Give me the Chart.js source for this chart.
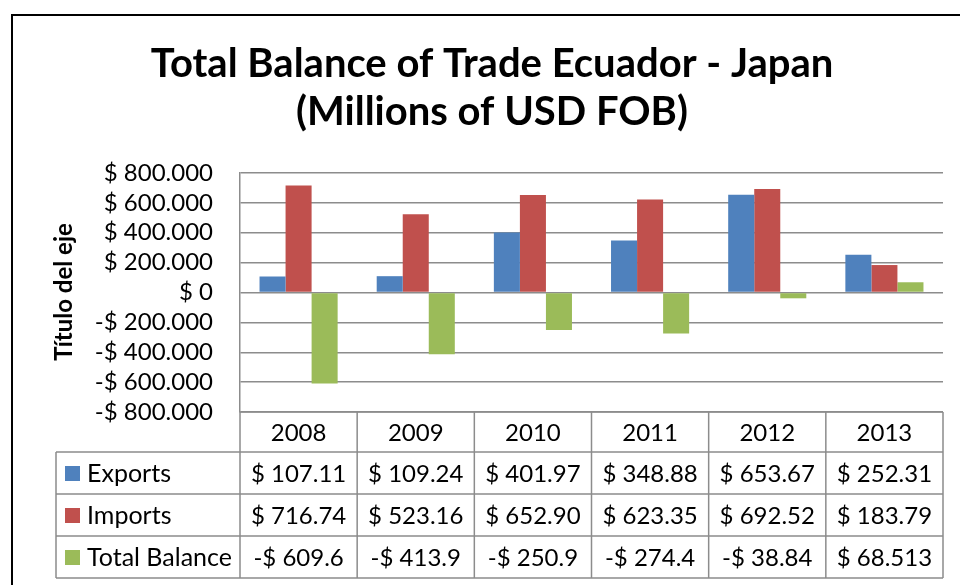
<!DOCTYPE html>
<html>
<head>
<meta charset="utf-8">
<script src="https://cdn.jsdelivr.net/npm/chart.js@4.4.1/dist/chart.umd.min.js"></script>
<style>
  html, body { margin: 0; padding: 0; background: #ffffff; }
  #wrap { width: 960px; height: 585px; position: relative; }
  canvas { display: block; }
</style>
</head>
<body>
<div id="wrap"><canvas id="c" width="960" height="585"></canvas></div>
<script>
// ---- data ----
const categories = ['2008', '2009', '2010', '2011', '2012', '2013'];
const exportsValues = [107.11, 109.24, 401.97, 348.88, 653.67, 252.31];
const importsValues = [716.74, 523.16, 652.90, 623.35, 692.52, 183.79];
const balanceValues = [-609.6, -413.9, -250.9, -274.4, -38.84, 68.513];
const seriesNames = ['Exports', 'Imports', 'Total Balance'];
const yTicks = [800, 600, 400, 200, 0, -200, -400, -600, -800];
const titleLines = ['Total Balance of Trade Ecuador - Japan', '(Millions of USD FOB)'];
const axisTitle = 'Título del eje';

const colors = ['#4F81BD', '#C0504D', '#9BBB59'];
const FONT = 'Lato, "Open Sans", "Liberation Sans", sans-serif';
const GRID = '#8c8c8c';

function fmtTick(v) {
  if (v === 0) return '$ 0';
  return (v < 0 ? '-$ ' : '$ ') + Math.abs(v).toFixed(3);
}
// Excel "General" format squeezed into the cell width (6 characters)
function fmtCell(v) {
  let s = (v < 0) ? v.toPrecision(4) : (v >= 100 ? v.toFixed(2) : v.toPrecision(5));
  if (v < 0) return '-$ ' + s.replace('-', '');
  return '$ ' + s;
}

const tablePlugin = {
  id: 'excelDecor',
  beforeDraw(chart) {
    const ctx = chart.ctx;
    ctx.save();
    ctx.fillStyle = '#ffffff';
    ctx.fillRect(0, 0, chart.width, chart.height);
    ctx.restore();
  },
  afterDraw(chart) {
    const ctx = chart.ctx;
    const area = chart.chartArea;
    const xs = chart.scales.x;
    const n = categories.length;
    const colW = (area.right - area.left) / n;
    ctx.save();

    // outer chart frame
    ctx.strokeStyle = '#000000';
    ctx.lineWidth = 2;
    ctx.beginPath();
    ctx.moveTo(12, 600);
    ctx.lineTo(12, 15);
    ctx.lineTo(980, 15);
    ctx.stroke();

    // title
    ctx.fillStyle = '#000000';
    ctx.textAlign = 'center';
    ctx.textBaseline = 'alphabetic';
    ctx.font = 'bold 40px ' + FONT;
    ctx.fillText(titleLines[0], 492, 77);
    ctx.fillText(titleLines[1], 492, 125);

    // axis title
    ctx.save();
    ctx.translate(64, 292);
    ctx.rotate(-Math.PI / 2);
    ctx.font = 'bold 24px ' + FONT;
    ctx.textBaseline = 'middle';
    ctx.fillText(axisTitle, 0, 0);
    ctx.restore();

    // data table
    const top = area.bottom;
    const headH = 40;
    const rowH = 42;
    const tableLeft = 56;
    ctx.strokeStyle = GRID;
    ctx.lineWidth = 1.5;
    ctx.beginPath();
    ctx.moveTo(area.left, top);
    ctx.lineTo(area.right, top);
    for (let r = 0; r <= 3; r++) {
      const y = top + headH + r * rowH;
      ctx.moveTo(tableLeft, y);
      ctx.lineTo(area.right, y);
    }
    ctx.moveTo(tableLeft, top + headH);
    ctx.lineTo(tableLeft, top + headH + 3 * rowH);
    for (let i = 0; i <= n; i++) {
      const x = area.left + i * colW;
      ctx.moveTo(x, top);
      ctx.lineTo(x, top + headH + 3 * rowH);
    }
    ctx.stroke();

    ctx.fillStyle = '#000000';
    ctx.textBaseline = 'middle';
    ctx.textAlign = 'center';
    ctx.font = '24px ' + FONT;
    categories.forEach((c, i) => {
      ctx.fillText(c, xs.getPixelForValue(i), top + headH / 2 + 1);
    });
    const series = [exportsValues, importsValues, balanceValues];
    series.forEach((vals, r) => {
      const cy = top + headH + r * rowH + rowH / 2 + 1;
      ctx.fillStyle = colors[r];
      ctx.fillRect(65, cy - 8, 15, 15);
      ctx.fillStyle = '#000000';
      ctx.textAlign = 'left';
      ctx.font = '25px ' + FONT;
      ctx.fillText(seriesNames[r], 87, cy);
      ctx.textAlign = 'center';
      ctx.font = '24px ' + FONT;
      vals.forEach((v, i) => {
        ctx.fillText(fmtCell(v), xs.getPixelForValue(i), cy);
      });
    });
    ctx.restore();
  }
};

new Chart(document.getElementById('c'), {
  type: 'bar',
  data: {
    labels: categories,
    datasets: [
      { label: seriesNames[0], data: exportsValues, backgroundColor: colors[0] },
      { label: seriesNames[1], data: importsValues, backgroundColor: colors[1] },
      { label: seriesNames[2], data: balanceValues, backgroundColor: colors[2] }
    ]
  },
  options: {
    responsive: false,
    animation: false,
    devicePixelRatio: 1,
    layout: { padding: { left: 0, top: 173, right: 17, bottom: 173 } },
    plugins: { legend: { display: false }, title: { display: false }, tooltip: { enabled: false } },
    datasets: { bar: { categoryPercentage: 2 / 3, barPercentage: 1 } },
    scales: {
      x: { display: false },
      y: {
        min: -800, max: 800,
        afterBuildTicks(scale) { scale.ticks = yTicks.map(v => ({ value: v })); },
        afterFit(scale) { scale.width = 240; },
        border: { display: true, color: GRID, width: 1.5 },
        grid: { color: GRID, lineWidth: 1.5, drawTicks: false },
        ticks: {
          autoSkip: false,
          padding: 27,
          color: '#000000',
          font: { family: FONT, size: 24 },
          callback: (v) => fmtTick(v)
        }
      }
    }
  },
  plugins: [tablePlugin]
});
</script>
</body>
</html>
